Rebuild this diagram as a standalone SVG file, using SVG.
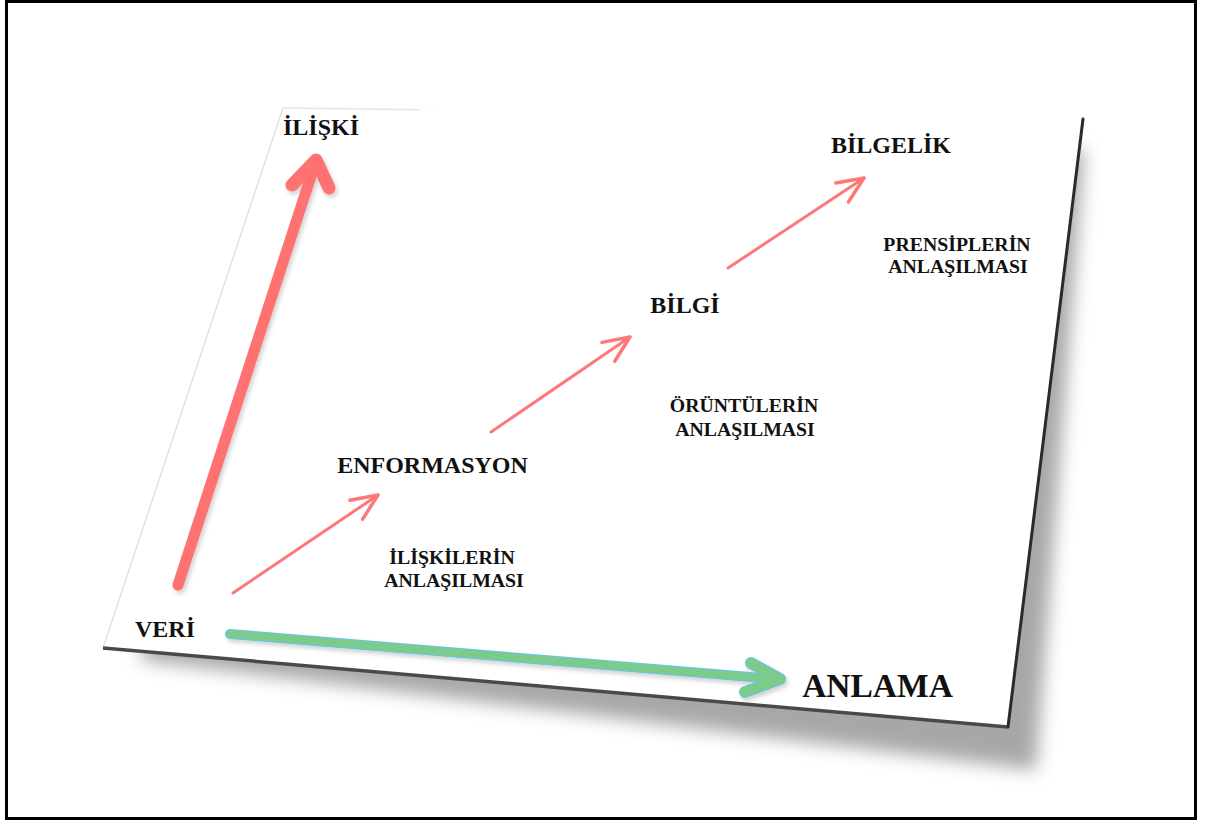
<svg xmlns="http://www.w3.org/2000/svg" width="1205" height="821" viewBox="0 0 1205 821">
  <style>
    .lbl { font-family: "Liberation Serif", "Times New Roman", serif; font-weight: bold; fill: #111; text-anchor: middle; }
    .big { font-size: 24px; }
    .huge { font-size: 33.5px; }
    .small { font-size: 19.8px; }
    .thin { fill: none; stroke: #ff7777; stroke-width: 3; stroke-linecap: round; }
  </style>
  <defs>
    <filter id="softShadow" x="-10%" y="-10%" width="120%" height="130%">
      <feGaussianBlur stdDeviation="9"/>
    </filter>
    <filter id="edgeBlur" x="-5%" y="-5%" width="110%" height="110%">
      <feGaussianBlur stdDeviation="0.7"/>
    </filter>
    <filter id="arrowShadow" x="-20%" y="-20%" width="140%" height="140%">
      <feDropShadow dx="2" dy="3" stdDeviation="2" flood-color="#000" flood-opacity="0.18"/>
    </filter>
    <marker id="openHead" markerUnits="userSpaceOnUse" orient="auto" markerWidth="40" markerHeight="40" refX="0" refY="0" viewBox="-30 -15 35 30" overflow="visible">
      <path d="M -23 -10 L 0 0 L -23 10" fill="none" stroke="#ff7777" stroke-width="3" stroke-linecap="round" stroke-linejoin="round"/>
    </marker>
  </defs>

  <!-- outer frame -->
  <rect x="6.5" y="1.5" width="1189" height="817" fill="#fff" stroke="#000" stroke-width="3"/>

  <!-- tilted sheet with its shadow -->
  <g id="sheet">
    <polygon points="300,124 1084,150 1036,770 140,660" fill="#6e6e6e" opacity="0.6" filter="url(#softShadow)"/>
    <polygon points="283,108 1083,119 1008,727 103,648" fill="#fff"/>
    <line x1="283" y1="108" x2="420" y2="109.8" stroke="#e6e6e6" stroke-width="1.5"/>
    <line x1="283" y1="108" x2="103" y2="648" stroke="#dcdcdc" stroke-width="1.2"/>
    <line x1="103" y1="648" x2="1008" y2="727" stroke="#4a4a4a" stroke-width="3.5" filter="url(#edgeBlur)"/>
    <line x1="1083" y1="119" x2="1008" y2="727" stroke="#2a2a2a" stroke-width="3" stroke-linecap="round" filter="url(#edgeBlur)"/>
  </g>

  <!-- arrows -->
  <g id="connectors">
    <g id="axis-iliski" filter="url(#arrowShadow)" fill="none" stroke="#ff7272" stroke-linecap="round" stroke-linejoin="round">
      <line x1="178" y1="585" x2="313" y2="170" stroke-width="11"/>
      <polyline points="292,185 316,160 329,188" stroke-width="13"/>
    </g>
    <g id="axis-anlama" filter="url(#arrowShadow)" fill="none" stroke-linecap="round" stroke-linejoin="round">
      <g stroke="#69c6dc">
        <line x1="230" y1="634" x2="774" y2="679" stroke-width="10"/>
        <polyline points="751,663 780,679 745,692" stroke-width="12"/>
      </g>
      <g stroke="#7ccb8b">
        <line x1="231" y1="634" x2="774" y2="679" stroke-width="7.5"/>
        <polyline points="751,663 780,679 745,692" stroke-width="9.5"/>
      </g>
    </g>
    <line id="veri-enformasyon" class="thin" x1="233" y1="593" x2="378" y2="495" marker-end="url(#openHead)"/>
    <line id="enformasyon-bilgi" class="thin" x1="491" y1="432" x2="630" y2="337" marker-end="url(#openHead)"/>
    <line id="bilgi-bilgelik" class="thin" x1="728" y1="268" x2="864" y2="178" marker-end="url(#openHead)"/>
  </g>

  <!-- labels -->
  <g id="iliski"><text class="lbl big" x="321" y="135">İLİŞKİ</text></g>
  <g id="bilgelik"><text class="lbl big" x="891" y="153">BİLGELİK</text></g>
  <g id="bilgi"><text class="lbl big" x="685" y="313">BİLGİ</text></g>
  <g id="enformasyon"><text class="lbl big" x="432.5" y="473">ENFORMASYON</text></g>
  <g id="veri"><text class="lbl big" x="165" y="637">VERİ</text></g>
  <g id="anlama"><text class="lbl huge" x="877.5" y="697">ANLAMA</text></g>
  <g id="prensipler">
    <text class="lbl small" x="957" y="251">PRENSİPLERİN</text>
    <text class="lbl small" x="958" y="273">ANLAŞILMASI</text>
  </g>
  <g id="oruntuler">
    <text class="lbl small" x="744" y="412">ÖRÜNTÜLERİN</text>
    <text class="lbl small" x="745" y="436">ANLAŞILMASI</text>
  </g>
  <g id="iliskiler">
    <text class="lbl small" x="452" y="564">İLİŞKİLERİN</text>
    <text class="lbl small" x="454" y="587">ANLAŞILMASI</text>
  </g>
</svg>
